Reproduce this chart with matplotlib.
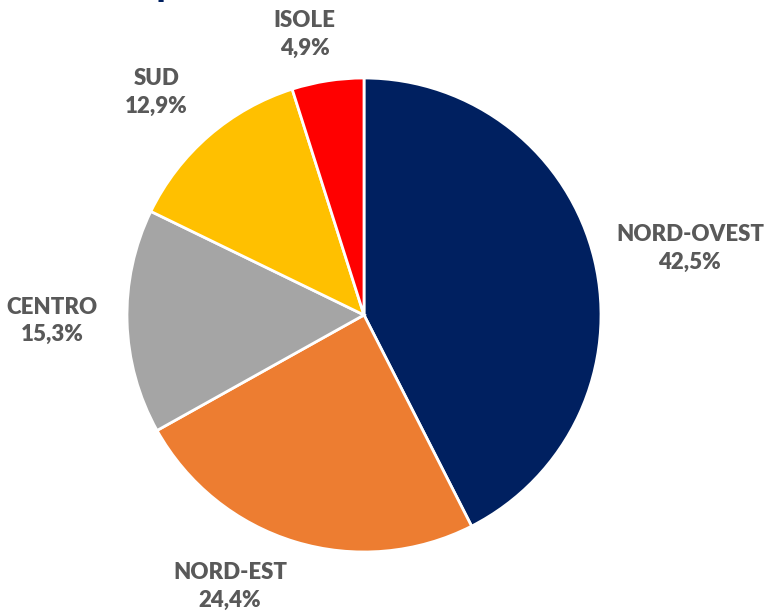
import matplotlib.pyplot as plt

regions = ["NORD-OVEST", "NORD-EST", "CENTRO", "SUD", "ISOLE"]
shares = [42.5, 24.4, 15.3, 12.9, 4.9]
colors = ["#002060", "#ED7D31", "#A5A5A5", "#FFC000", "#FF0000"]

# label centres in pie units (radius = 1)
label_pos = [(1.375, 0.28), (-0.565, -1.145), (-1.315, -0.025), (-0.875, 0.94), (-0.25, 1.185)]

fig = plt.figure(figsize=(7.66, 6.15), dpi=100)
ax = fig.add_axes([0, 0, 1, 1])
ax.axis("off")

ax.pie(shares, colors=colors, startangle=90, counterclock=False, radius=1,
       wedgeprops=dict(edgecolor="white", linewidth=2))

for name, val, (x, y) in zip(regions, shares, label_pos):
    txt = f"{name}\n{val:.1f}%".replace(".", ",")
    ax.text(x, y, txt, ha="center", va="center", fontsize=16, fontweight="heavy",
            color="#595959", family=["Lato", "DejaVu Sans"], linespacing=1.4)

# title cut off at the top of the image
ax.text(-0.83, 1.35, "p", ha="center", va="baseline", fontsize=30, fontweight="bold",
        color="#002060", family=["Lato", "DejaVu Sans"])

ax.set_xlim(-364 / 237, (766 - 364) / 237)
ax.set_ylim(-(615 - 315) / 237, 315 / 237)
ax.set_aspect("auto")

fig.savefig("out.png", dpi=100)
